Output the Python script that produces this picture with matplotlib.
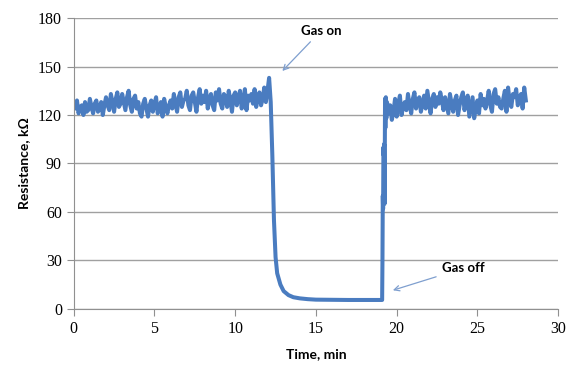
import numpy as np
import matplotlib
matplotlib.use("Agg")
from matplotlib import pyplot as plt

# baseline before gas, t = 0.0 .. 12.1 min, step 0.1
air1 = [127,124,129,121,125,126,120,128,122,123,
        130,125,121,127,129,122,124,128,120,126,
        131,126,123,133,128,122,130,134,125,127,
        133,128,123,131,135,126,122,130,132,124,
        128,121,119,127,130,124,119,126,129,122,
        127,131,121,124,128,119,130,125,121,126,
        129,124,133,127,122,131,134,125,129,130,
        135,126,123,132,134,128,122,131,136,127,
        132,128,135,124,130,133,126,123,134,129,
        136,127,124,133,131,125,135,129,122,132,
        134,126,131,135,124,128,136,123,132,129,
        133,127,136,125,131,134,126,130,137,128,
        135,143]
t_air1 = [round(0.1 * i, 1) for i in range(len(air1))]

# response to gas
t_gas = [12.2, 12.3, 12.4, 12.5, 12.6, 12.8, 13.0, 13.3, 13.6, 14.0, 14.5, 15.0, 16.0, 17.0, 18.0, 19.1]
gas = [128, 95, 55, 32, 22, 15, 11, 8.5, 7.2, 6.5, 6.0, 5.7, 5.6, 5.5, 5.5, 5.5]

# recovery
t_rec = [19.12, 19.14, 19.16, 19.18, 19.20, 19.22, 19.25, 19.28, 19.30, 19.33, 19.36, 19.40]
rec = [30, 70, 62, 100, 95, 102, 65, 130, 112, 131, 118, 128]

# baseline after gas off, t = 19.5 .. 28.0 min
air2 = [121,126,117,122,130,119,127,132,120,125,
        128,123,133,126,121,130,134,124,129,131,
        122,127,132,124,135,128,121,130,133,125,
        131,127,134,129,123,131,126,121,133,127,
        122,129,132,120,126,131,134,123,128,132,
        119,125,131,118,124,129,121,133,126,130,
        124,129,135,126,122,133,136,127,131,125,
        124,130,135,122,137,128,125,133,131,136,
        126,130,133,124,137,129]
t_air2 = [round(19.5 + 0.1 * i, 1) for i in range(len(air2))]

t = t_air1 + t_gas + t_rec + t_air2
r = air1 + gas + rec + air2

fig = plt.figure(figsize=(5.76, 3.69), dpi=100)
ax = fig.add_axes([0.128, 0.163, 0.841, 0.788])

ax.plot(t, r, color='#4a7cc0', lw=2.9, solid_joinstyle='round')

ax.set_xlim(0, 30)
ax.set_ylim(0, 180)
ax.set_xticks(range(0, 31, 5))
ax.set_yticks(range(0, 181, 30))
ax.yaxis.grid(True, color='#a0a0a0', lw=1)
ax.set_axisbelow(True)
for s in ['top', 'right']:
    ax.spines[s].set_visible(False)
for s in ['left', 'bottom']:
    ax.spines[s].set_color('#909090')
ax.tick_params(direction='out', length=5, color='#909090', labelsize=11.5)
for lab in ax.get_xticklabels() + ax.get_yticklabels():
    lab.set_family('Liberation Serif')

ax.set_xlabel('Time, min', fontsize=10, fontweight='bold', family='Lato', labelpad=8)
ax.set_ylabel('Resistance, k\u03a9', fontsize=10, fontweight='bold', family='Lato', labelpad=6)

arrow = dict(arrowstyle='->', color='#7f9fcf', lw=0.9)
ax.annotate('Gas on', xy=(12.8, 146), xytext=(15.3, 172), ha='center', va='center',
            fontsize=9.5, fontweight='bold', family='Lato', arrowprops=arrow)
ax.annotate('Gas off', xy=(19.6, 11), xytext=(24.1, 25), ha='center', va='center',
            fontsize=9.5, fontweight='bold', family='Lato', arrowprops=arrow)

fig.savefig('out.png', dpi=100)
